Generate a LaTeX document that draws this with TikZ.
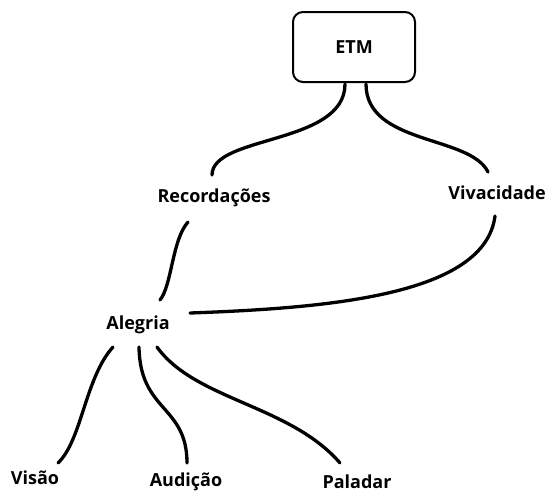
\documentclass[tikz,border=0pt]{standalone}
\usepackage{fontspec}
\setmainfont{Open Sans}
\begin{document}
\begin{tikzpicture}[x=1pt,y=-1pt,
  lbl/.style={font=\bfseries\fontsize{18}{20}\selectfont, inner sep=0pt},
  conn/.style={line width=3.3pt, line cap=round}]
\useasboundingbox (0,0) rectangle (546,498);
\node[draw, line width=2pt, rounded corners=10pt, minimum width=122pt, minimum height=70pt, lbl] (etm) at (354,47) {ETM};
\node[lbl] (rec) at (214,198) {Recordações};
\node[lbl] (viv) at (497,193) {Vivacidade};
\node[lbl] (ale) at (138,325) {Alegria};
\node[lbl] (vis) at (35,478) {Visão};
\node[lbl] (aud) at (186,482) {Audição};
\node[lbl] (pal) at (357,482) {Paladar};
\coordinate (e1) at (345,84);
\coordinate (e2) at (366,84);
\coordinate (r1) at (212,175);
\coordinate (r2) at (188,222);
\coordinate (v1) at (488,172);
\coordinate (v2) at (495,216);
\coordinate (a0) at (160,300);
\coordinate (a1) at (190,313);
\coordinate (a2) at (113,347);
\coordinate (a3) at (139,347);
\coordinate (a4) at (157,347);
\coordinate (s1) at (58,463);
\coordinate (s2) at (187,463);
\coordinate (s3) at (340,463);
\draw[conn] (e1) .. controls (345,145) and (212,135) .. (r1);
\draw[conn] (e2) .. controls (366,145) and (470,135) .. (v1);
\draw[conn] (r2) .. controls (172,240) and (172,285) .. (a0);
\draw[conn] (v2) .. controls (485,295) and (330,308) .. (a1);
\draw[conn] (a2) .. controls (85,378) and (82,440) .. (s1);
\draw[conn] (a3) .. controls (140,412) and (187,405) .. (s2);
\draw[conn] (a4) .. controls (195,400) and (290,405) .. (s3);
\end{tikzpicture}
\end{document}
